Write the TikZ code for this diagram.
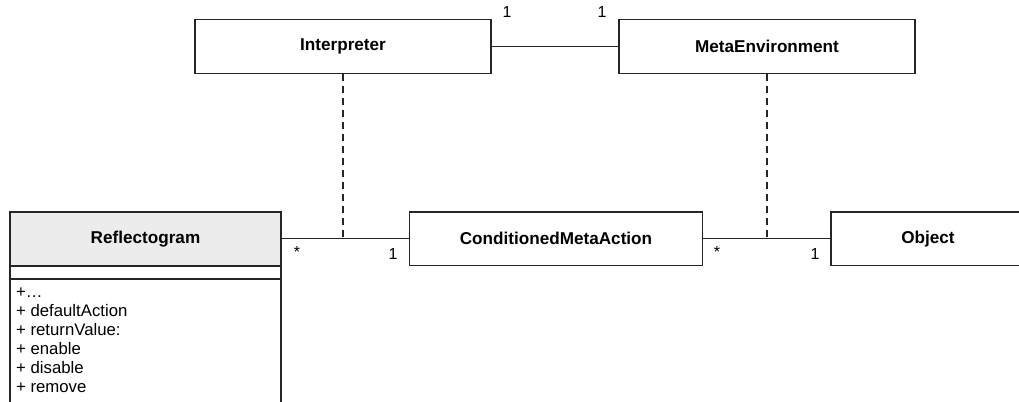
\documentclass[tikz,border=0pt]{standalone}
\usepackage{fontspec}
\setmainfont{Liberation Sans}
\begin{document}
\begin{tikzpicture}[x=1bp,y=-1bp,
  cls/.style={draw=black!85, line width=1.2bp, fill=white, minimum height=53.7bp, inner sep=0pt, font=\bfseries\fontsize{17.2}{20}\selectfont},
  comp/.style={draw=black!85, line width=1.2bp, fill=white, inner sep=0pt, minimum width=271bp},
  optext/.style={inner sep=0pt, font=\fontsize{16.8}{19}\selectfont},
  mult/.style={inner sep=0pt, font=\fontsize{16}{18}\selectfont},
  conn/.style={draw=black!85, line width=1.2bp},
  dep/.style={draw=black!85, line width=1.2bp, dash pattern=on 7bp off 5bp}]
\useasboundingbox (0,0) rectangle (1019,401);
\clip (0,0) rectangle (1019,401);
\node[cls, minimum width=296bp] (interp) at (343,46.3) {Interpreter};
\node[cls, minimum width=296bp] (meta) at (767,46.3) {MetaEnvironment};
\node[cls, minimum width=271bp, fill=gray!15] (refl) at (145.5,238.8) {Reflectogram};
\node[comp, minimum height=11.8bp, anchor=north] (reflattr) at (refl.south) {};
\node[comp, minimum height=140bp, anchor=north] (reflops) at (reflattr.south) {};
\node[cls, minimum width=293.4bp] (cma) at (556,238.8) {ConditionedMetaAction};
\node[cls, minimum width=194bp] (obj) at (928,238.8) {Object};
\foreach \t [count=\i from 0] in {+…, + defaultAction, + returnValue:, + enable, + disable, + remove}
  \node[optext, anchor=base west] (op\i) at (16,297.5+18.9*\i) {\t};
\draw[conn] (interp.east) -- (meta.west);
\draw[conn] (refl.east) -- (cma.west);
\draw[conn] (cma.east) -- (obj.west);
\coordinate (m1) at (343,238.8);
\coordinate (m2) at (767,238.8);
\draw[dep] (interp.south) -- (m1);
\draw[dep] (meta.south) -- (m2);
\node[mult] (l1) at (507,12) {1};
\node[mult] (l2) at (602,12) {1};
\node[mult] (l3) at (297,252) {*};
\node[mult] (l4) at (393,254) {1};
\node[mult] (l5) at (717,252) {*};
\node[mult] (l6) at (815,254) {1};
\end{tikzpicture}
\end{document}
